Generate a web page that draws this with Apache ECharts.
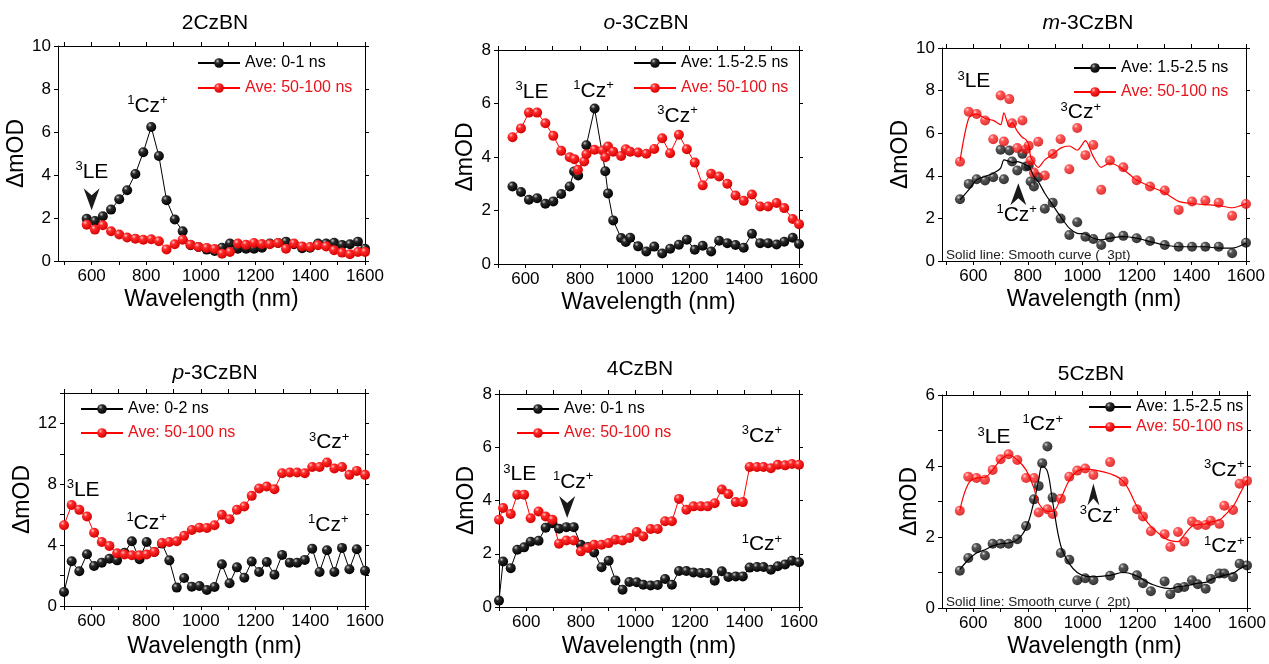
<!DOCTYPE html>
<html>
<head>
<meta charset="utf-8">
<title>Transient absorption spectra</title>
<script src="https://cdn.jsdelivr.net/npm/echarts@6.0.0/dist/echarts.min.js"></script>
<style>
  html, body { margin: 0; padding: 0; background: #fff; }
  #chart { width: 1269px; height: 664px; }
</style>
</head>
<body>
<div id="chart"></div>
<script>
const FONT = '"Liberation Sans", Arial, Helvetica, sans-serif';
const RED = '#ff0000';
const RED_TEXT = '#e8141b';

// 2CzBN
const wl2CzBN = [582, 612, 641, 671, 701, 730, 760, 789, 818, 846, 874, 904, 933, 962, 991, 1021, 1050, 1077, 1106, 1135, 1165, 1194, 1223, 1252, 1282, 1311, 1340, 1370, 1399, 1428, 1458, 1487, 1516, 1545, 1574, 1600];
const fast2CzBN = [1.96, 1.86, 2.08, 2.39, 2.87, 3.29, 4.05, 5.06, 6.23, 4.88, 2.83, 1.93, 1.38, 0.73, 0.65, 0.53, 0.47, 0.62, 0.81, 0.57, 0.57, 0.57, 0.62, 0.81, 0.84, 0.90, 0.78, 0.59, 0.62, 0.81, 0.81, 0.85, 0.75, 0.78, 0.90, 0.57];
const slow2CzBN = [1.69, 1.46, 1.66, 1.38, 1.23, 1.09, 1.04, 0.99, 1.01, 0.92, 0.54, 0.78, 0.99, 0.76, 0.65, 0.61, 0.56, 0.34, 0.42, 0.81, 0.76, 0.84, 0.79, 0.78, 0.84, 0.57, 0.81, 0.68, 0.65, 0.73, 0.68, 0.50, 0.39, 0.31, 0.42, 0.42];

// o-3CzBN
const wlFastO3 = [553, 584, 613, 643, 673, 702, 731, 762, 778, 793, 823, 853, 892, 902, 921, 950, 967, 983, 1012, 1042, 1071, 1100, 1129, 1161, 1190, 1219, 1248, 1279, 1308, 1338, 1368, 1398, 1428, 1458, 1487, 1518, 1546, 1577, 1600];
const fastO3 = [2.90, 2.69, 2.40, 2.46, 2.25, 2.34, 2.62, 2.90, 3.46, 3.31, 4.44, 5.81, 3.47, 2.64, 1.63, 0.97, 0.82, 0.98, 0.66, 0.47, 0.65, 0.39, 0.57, 0.72, 0.91, 0.53, 0.68, 0.47, 0.87, 0.78, 0.71, 0.61, 1.13, 0.78, 0.78, 0.73, 0.83, 0.98, 0.75];
const wlSlowO3 = [553, 584, 613, 643, 673, 702, 731, 762, 779, 792, 815, 823, 853, 882, 892, 902, 921, 950, 967, 983, 1012, 1042, 1071, 1100, 1129, 1161, 1190, 1219, 1248, 1279, 1308, 1338, 1368, 1398, 1428, 1458, 1487, 1518, 1546, 1577, 1600];
const slowO3 = [4.74, 5.07, 5.66, 5.66, 5.26, 4.79, 4.23, 3.99, 3.92, 3.52, 3.83, 4.10, 4.27, 4.24, 3.99, 4.39, 4.20, 4.04, 4.29, 4.20, 4.17, 4.12, 4.30, 4.70, 4.14, 4.83, 4.29, 3.79, 2.94, 3.37, 3.27, 3.00, 2.56, 2.36, 2.60, 2.15, 2.15, 2.28, 2.09, 1.68, 1.49];

// m-3CzBN (dots + smoothed curve)
const wlM3 = [551, 583, 612, 643, 673, 700, 712, 732, 742, 761, 780, 793, 803, 810, 822, 838, 862, 891, 920, 952, 981, 1011, 1040, 1069, 1101, 1150, 1199, 1248, 1302, 1353, 1402, 1451, 1500, 1549, 1600];
const fastM3 = [2.90, 3.62, 3.84, 3.78, 3.93, 5.22, 3.84, 5.19, 4.67, 4.25, 5.03, 4.44, 4.47, 3.73, 3.50, 3.93, 2.45, 2.74, 1.99, 1.22, 1.82, 1.14, 1.03, 0.75, 1.11, 1.18, 1.07, 0.94, 0.75, 0.67, 0.67, 0.67, 0.67, 0.36, 0.86];
const fastM3Smooth = [2.87, 3.34, 3.81, 3.97, 4.12, 4.36, 4.75, 4.67, 4.62, 4.67, 4.59, 4.51, 4.44, 4.31, 3.97, 3.73, 3.18, 2.63, 2.08, 1.54, 1.30, 1.27, 1.07, 0.99, 1.07, 1.14, 1.07, 0.91, 0.75, 0.67, 0.67, 0.67, 0.60, 0.60, 0.83];
const slowM3 = [4.66, 7.01, 6.90, 6.60, 5.72, 7.77, 5.61, 7.60, 6.47, 5.30, 6.60, 5.25, 5.41, 4.72, 4.15, 5.60, 4.01, 5.02, 5.72, 4.31, 6.24, 4.97, 5.45, 3.34, 4.72, 4.40, 3.79, 3.50, 3.31, 2.40, 2.79, 2.84, 2.74, 2.12, 2.68];
const slowM3Smooth = [4.7, 6.7, 6.9, 6.7, 6.6, 6.4, 6.95, 6.3, 6.5, 6.1, 5.8, 5.7, 5.45, 4.9, 4.6, 4.4, 4.75, 5.0, 5.3, 5.4, 5.2, 5.65, 4.9, 4.4, 4.6, 4.3, 3.8, 3.5, 3.2, 2.8, 2.7, 2.65, 2.6, 2.5, 2.7];

// p-3CzBN
const wlP3 = [500, 528, 556, 584, 610, 638, 666, 694, 721, 748, 776, 802, 830, 858, 885, 912, 939, 967, 995, 1022, 1050, 1077, 1105, 1132, 1159, 1186, 1213, 1241, 1269, 1297, 1325, 1352, 1380, 1407, 1434, 1461, 1488, 1516, 1543, 1570, 1600];
const fastP3 = [0.92, 2.94, 2.28, 3.40, 2.63, 2.85, 3.11, 3.00, 3.50, 4.25, 3.07, 4.21, 3.55, 4.10, 3.00, 1.21, 1.84, 1.27, 1.32, 1.05, 1.25, 2.74, 1.49, 2.54, 1.86, 2.92, 2.24, 2.89, 2.06, 3.36, 2.85, 2.85, 3.03, 3.77, 2.24, 3.66, 2.24, 3.82, 2.41, 3.73, 2.32];
const slowP3 = [5.31, 6.64, 6.32, 5.88, 4.82, 4.21, 3.95, 3.46, 3.38, 3.33, 3.33, 3.38, 3.55, 4.14, 4.21, 4.25, 4.61, 5.00, 5.15, 5.13, 5.31, 5.99, 5.70, 6.32, 6.54, 7.24, 7.72, 7.85, 7.68, 8.73, 8.77, 8.77, 8.73, 9.14, 9.14, 9.43, 9.04, 9.14, 8.62, 8.88, 8.62];

// 4CzBN
const wl4CzBN = [500, 515, 543, 567, 592, 616, 645, 671, 696, 720, 747, 774, 800, 826, 849, 876, 902, 927, 953, 978, 1005, 1029, 1056, 1082, 1109, 1134, 1160, 1187, 1213, 1240, 1265, 1291, 1317, 1341, 1368, 1394, 1419, 1446, 1470, 1497, 1522, 1549, 1574, 1600];
const fast4CzBN = [0.24, 1.71, 1.46, 2.15, 2.24, 2.45, 2.49, 2.98, 3.15, 2.94, 3.00, 3.00, 2.34, 2.25, 2.05, 1.49, 1.74, 1.00, 0.65, 0.94, 0.93, 0.84, 0.81, 0.83, 1.05, 0.84, 1.35, 1.35, 1.30, 1.28, 1.28, 0.99, 1.34, 1.13, 1.15, 1.15, 1.48, 1.50, 1.50, 1.40, 1.53, 1.60, 1.74, 1.68];
const slow4CzBN = [3.28, 3.72, 3.49, 4.22, 4.22, 3.33, 3.59, 3.40, 3.28, 2.38, 2.50, 2.50, 2.09, 2.22, 2.34, 2.34, 2.40, 2.53, 2.50, 2.59, 2.82, 2.65, 2.93, 2.93, 3.22, 3.22, 4.06, 3.65, 3.78, 3.78, 3.78, 3.90, 4.41, 4.24, 3.94, 3.94, 5.26, 5.26, 5.26, 5.21, 5.34, 5.32, 5.37, 5.34];

// 5CzBN (dots + smoothed curve)
const wlFast5 = [551, 582, 612, 643, 671, 700, 729, 761, 793, 822, 839, 852, 871, 890, 920, 951, 980, 1009, 1039, 1100, 1149, 1198, 1220, 1249, 1299, 1320, 1348, 1371, 1399, 1420, 1449, 1468, 1499, 1517, 1549, 1573, 1600];
const fast5 = [1.05, 1.41, 1.69, 1.48, 1.81, 1.81, 1.81, 1.94, 2.31, 3.06, 3.44, 4.08, 4.55, 3.11, 1.55, 1.36, 0.78, 0.84, 0.78, 0.91, 1.12, 0.92, 0.70, 0.47, 0.75, 0.39, 0.56, 0.59, 0.78, 0.67, 0.54, 0.82, 0.97, 0.97, 0.87, 1.25, 1.20];
const fast5Smooth = [1.08, 1.36, 1.55, 1.64, 1.75, 1.81, 1.83, 1.92, 2.25, 3.00, 3.60, 4.00, 3.85, 3.00, 1.75, 1.25, 1.00, 0.90, 0.88, 0.92, 1.00, 0.90, 0.80, 0.68, 0.56, 0.55, 0.60, 0.62, 0.66, 0.70, 0.72, 0.80, 0.88, 0.92, 0.98, 1.10, 1.20];
const wlSlow5 = [551, 582, 612, 643, 671, 700, 729, 761, 793, 822, 839, 871, 890, 920, 951, 980, 1009, 1039, 1100, 1149, 1198, 1220, 1249, 1299, 1320, 1348, 1371, 1399, 1420, 1449, 1468, 1499, 1517, 1549, 1573, 1600];
const slow5 = [2.74, 3.70, 3.66, 3.61, 3.89, 4.19, 4.33, 4.17, 3.66, 3.66, 2.69, 2.78, 2.65, 3.08, 3.70, 3.87, 3.93, 3.75, 4.11, 3.56, 2.78, 2.58, 2.16, 2.08, 1.72, 2.14, 1.87, 2.44, 2.34, 2.34, 2.46, 2.37, 2.88, 2.76, 3.50, 3.58];
const slow5Smooth = [2.74, 3.50, 3.66, 3.68, 3.89, 4.17, 4.31, 4.17, 3.89, 3.37, 2.95, 2.72, 2.72, 3.09, 3.60, 3.85, 3.91, 3.89, 3.78, 3.56, 2.86, 2.58, 2.30, 1.97, 1.90, 1.87, 2.06, 2.30, 2.35, 2.37, 2.42, 2.48, 2.60, 2.86, 3.20, 3.60];

// axis ticks and labels
const xLabels = [600, 800, 1000, 1200, 1400, 1600];
const xTicks = [500, 600, 700, 800, 900, 1000, 1100, 1200, 1300, 1400, 1500, 1600];
const yLabels10 = [0, 2, 4, 6, 8, 10];
const yLabels8 = [0, 2, 4, 6, 8];
const yLabels14 = [0, 4, 8, 12];
const yTicks14 = [0, 2, 4, 6, 8, 10, 12, 14];
const yLabels6 = [0, 2, 4, 6];
const yTicks6 = [0, 1, 2, 3, 4, 5, 6];

const panels = [
  { title: '2CzBN', tx: 215, ty: 23, grid: { left: 58, top: 46, width: 307, height: 215 },
    xMin: 477, yMax: 10, yLab: yLabels10, yTick: yLabels10, yGap: 16, xGap: 27,
    legend: { left: 197, top: 55, gap: 9, names: ['Ave: 0-1 ns', 'Ave: 50-100 ns'] } },
  { title: '{i|o}-3CzBN', tx: 646, ty: 23, grid: { left: 498, top: 50, width: 301, height: 214 },
    xMin: 500, yMax: 8, yLab: yLabels8, yTick: yLabels8, yGap: 20, xGap: 27,
    legend: { left: 633, top: 55, gap: 9, names: ['Ave: 1.5-2.5 ns', 'Ave: 50-100 ns'] } },
  { title: '{i|m}-3CzBN', tx: 1088, ty: 23, grid: { left: 942, top: 48, width: 304, height: 213 },
    xMin: 485, yMax: 10, yLab: yLabels10, yTick: yLabels10, yGap: 20, xGap: 27,
    legend: { left: 1073, top: 60, gap: 8, names: ['Ave: 1.5-2.5 ns', 'Ave: 50-100 ns'] } },
  { title: '{i|p}-3CzBN', tx: 215, ty: 373, grid: { left: 64, top: 393, width: 301, height: 213 },
    xMin: 500, yMax: 14, yLab: yLabels14, yTick: yTicks14, yGap: 21, xGap: 29,
    legend: { left: 80, top: 401, gap: 8, names: ['Ave: 0-2 ns', 'Ave: 50-100 ns'] } },
  { title: '4CzBN', tx: 640, ty: 369, grid: { left: 499, top: 394, width: 300, height: 213 },
    xMin: 500, yMax: 8, yLab: yLabels8, yTick: yLabels8, yGap: 20, xGap: 28,
    legend: { left: 516, top: 401, gap: 8, names: ['Ave: 0-1 ns', 'Ave: 50-100 ns'] } },
  { title: '5CzBN', tx: 1091, ty: 374, grid: { left: 942, top: 395, width: 305, height: 213 },
    xMin: 486, yMax: 6, yLab: yLabels6, yTick: yTicks6, yGap: 20, xGap: 27,
    legend: { left: 1088, top: 399, gap: 4, names: ['Ave: 1.5-2.5 ns', 'Ave: 50-100 ns'] } }
];

// state labels, placed in data coordinates of each panel
const notes = [
  { p: 0, t: '{s|3}LE', x: 601, y: 4.15 },
  { p: 0, t: '{s|1}Cz{s|+}', x: 804, y: 7.2 },
  { p: 1, t: '{s|3}LE', x: 624, y: 6.44 },
  { p: 1, t: '{s|1}Cz{s|+}', x: 849, y: 6.47 },
  { p: 1, t: '{s|3}Cz{s|+}', x: 1156, y: 5.53 },
  { p: 2, t: '{s|3}LE', x: 602, y: 8.43 },
  { p: 2, t: '{s|3}Cz{s|+}', x: 994, y: 6.97 },
  { p: 2, t: '{s|1}Cz{s|+}', x: 759, y: 2.16 },
  { p: 3, t: '{s|3}LE', x: 570, y: 7.63 },
  { p: 3, t: '{s|1}Cz{s|+}', x: 802, y: 5.44 },
  { p: 3, t: '{s|3}Cz{s|+}', x: 1469, y: 10.75 },
  { p: 3, t: '{s|1}Cz{s|+}', x: 1466, y: 5.33 },
  { p: 4, t: '{s|3}LE', x: 576, y: 4.97 },
  { p: 4, t: '{s|1}Cz{s|+}', x: 772, y: 4.68 },
  { p: 4, t: '{s|3}Cz{s|+}', x: 1464, y: 6.43 },
  { p: 4, t: '{s|1}Cz{s|+}', x: 1464, y: 2.34 },
  { p: 5, t: '{s|3}LE', x: 676, y: 4.8 },
  { p: 5, t: '{s|1}Cz{s|+}', x: 854, y: 5.17 },
  { p: 5, t: '{s|3}Cz{s|+}', x: 1063, y: 2.58 },
  { p: 5, t: '{s|3}Cz{s|+}', x: 1517, y: 3.89 },
  { p: 5, t: '{s|1}Cz{s|+}', x: 1517, y: 1.73 }
];
const arrows = [
  { p: 0, x: 600, y: 2.36, dir: 1, w: 8 },
  { p: 2, x: 765, y: 3.65, dir: -1, w: 8 },
  { p: 4, x: 750, y: 3.34, dir: 1, w: 8 },
  { p: 5, x: 1039, y: 3.51, dir: -1, w: 6 }
];
const smoothNotes = [
  { p: 2, t: 'Solid line: Smooth curve (  3pt)' },
  { p: 5, t: 'Solid line: Smooth curve (  2pt)' }
];

const ball = (c0, c1, c2) => ({
  type: 'radial', x: 0.35, y: 0.3, r: 0.72,
  colorStops: [{ offset: 0, color: c0 }, { offset: 0.3, color: c1 }, { offset: 1, color: c2 }]
});
const BLACK_BALL = ball('#c8c8c8', '#2a2a2a', '#000');
const RED_BALL = ball('#ffc8c8', '#ff2a2a', '#d40000');

const pairs = (xs, ys) => xs.map((x, i) => [x, ys[i]]);

function dotLine(p, name, xs, ys, fill, color) {
  return {
    type: 'line', name, xAxisIndex: 2 * p, yAxisIndex: 2 * p, data: pairs(xs, ys),
    symbol: 'circle', symbolSize: 10, showAllSymbol: true,
    itemStyle: { color: fill }, lineStyle: { color, width: 1 }
  };
}
function dots(p, name, xs, ys, fill) {
  return {
    type: 'scatter', name, xAxisIndex: 2 * p, yAxisIndex: 2 * p, data: pairs(xs, ys),
    symbol: 'circle', symbolSize: 10, itemStyle: { color: fill }
  };
}
function curve(p, name, xs, ys, color, smooth) {
  return {
    type: 'line', name, xAxisIndex: 2 * p, yAxisIndex: 2 * p, data: pairs(xs, ys),
    symbol: 'none', smooth, lineStyle: { color, width: 1.2 }
  };
}

const series = [
  dotLine(0, 'Ave: 0-1 ns', wl2CzBN, fast2CzBN, BLACK_BALL, '#000'),
  dotLine(0, 'Ave: 50-100 ns', wl2CzBN, slow2CzBN, RED_BALL, RED),
  dotLine(1, 'Ave: 1.5-2.5 ns', wlFastO3, fastO3, BLACK_BALL, '#000'),
  dotLine(1, 'Ave: 50-100 ns', wlSlowO3, slowO3, RED_BALL, RED),
  curve(2, 'Ave: 1.5-2.5 ns', wlM3, fastM3Smooth, '#000', 0.25),
  curve(2, 'Ave: 50-100 ns', wlM3, slowM3Smooth, RED, 0.25),
  dots(2, 'Ave: 1.5-2.5 ns', wlM3, fastM3, BLACK_BALL),
  dots(2, 'Ave: 50-100 ns', wlM3, slowM3, RED_BALL),
  dotLine(3, 'Ave: 0-2 ns', wlP3, fastP3, BLACK_BALL, '#000'),
  dotLine(3, 'Ave: 50-100 ns', wlP3, slowP3, RED_BALL, RED),
  dotLine(4, 'Ave: 0-1 ns', wl4CzBN, fast4CzBN, BLACK_BALL, '#000'),
  dotLine(4, 'Ave: 50-100 ns', wl4CzBN, slow4CzBN, RED_BALL, RED),
  curve(5, 'Ave: 1.5-2.5 ns', wlFast5, fast5Smooth, '#000', 0.4),
  curve(5, 'Ave: 50-100 ns', wlSlow5, slow5Smooth, RED, 0.4),
  dots(5, 'Ave: 1.5-2.5 ns', wlFast5, fast5, BLACK_BALL),
  dots(5, 'Ave: 50-100 ns', wlSlow5, slow5, RED_BALL)
];

const axisLine = { show: true, onZero: false, lineStyle: { color: '#000', width: 1 } };
const plain = v => String(v);
const grids = [], xAxes = [], yAxes = [], legends = [];

panels.forEach((pn, i) => {
  grids.push(Object.assign({ show: false, containLabel: false, outerBoundsMode: 'none' }, pn.grid));
  const xBase = {
    gridIndex: i, type: 'value', min: pn.xMin, max: 1600, axisLine,
    axisTick: { show: true, inside: false, length: 4, customValues: xTicks.filter(v => v >= pn.xMin), lineStyle: { color: '#000' } },
    splitLine: { show: false }
  };
  xAxes.push(Object.assign({}, xBase, {
    position: 'bottom',
    axisLabel: { customValues: xLabels, formatter: plain, color: '#000', fontSize: 17, fontFamily: FONT, margin: 7 },
    name: 'Wavelength (nm)', nameLocation: 'middle', nameGap: pn.xGap,
    nameTextStyle: { color: '#000', fontSize: 23, fontFamily: FONT }
  }));
  xAxes.push(Object.assign({}, xBase, { position: 'top', axisLabel: { show: false } }));
  const yBase = {
    gridIndex: i, type: 'value', min: 0, max: pn.yMax, axisLine,
    axisTick: { show: true, inside: false, length: 4, customValues: pn.yTick, lineStyle: { color: '#000' } },
    splitLine: { show: false }
  };
  yAxes.push(Object.assign({}, yBase, {
    position: 'left',
    axisLabel: { customValues: pn.yLab, formatter: plain, color: '#000', fontSize: 17, fontFamily: FONT, margin: 7 },
    name: 'ΔmOD', nameLocation: 'middle', nameGap: pn.yGap,
    nameTextStyle: { color: '#000', fontSize: 23, fontFamily: FONT }
  }));
  yAxes.push(Object.assign({}, yBase, { position: 'right', axisLabel: { show: false } }));
  legends.push({
    left: pn.legend.left, top: pn.legend.top, orient: 'vertical', padding: 0,
    itemWidth: 42, itemHeight: 12, itemGap: pn.legend.gap, selectedMode: false,
    textStyle: { fontSize: 16, fontFamily: FONT },
    data: [
      { name: pn.legend.names[0], textStyle: { color: '#000' } },
      { name: pn.legend.names[1], textStyle: { color: RED_TEXT } }
    ]
  });
});

const chart = echarts.init(document.getElementById('chart'), null, { renderer: 'canvas' });
chart.setOption({
  animation: false,
  backgroundColor: '#fff',
  grid: grids,
  xAxis: xAxes,
  yAxis: yAxes,
  legend: legends,
  series
});

// texts and arrows need pixel positions from the axes
const toPx = (p, x, y) => chart.convertToPixel({ xAxisIndex: 2 * p, yAxisIndex: 2 * p }, [x, y]);
const noteRich = {
  s: { fontSize: 13, fontFamily: FONT, fill: '#000', verticalAlign: 'top', lineHeight: 14 },
};
const graphics = [];

panels.forEach(pn => {
  graphics.push({
    type: 'text', x: pn.tx, y: pn.ty, z: 50,
    style: {
      legacy: false, text: pn.title, fill: '#000', fontSize: 21, fontFamily: FONT,
      align: 'center', verticalAlign: 'middle',
      rich: { i: { fontSize: 21, fontFamily: FONT, fontStyle: 'italic', fill: '#000' } }
    }
  });
});

notes.forEach(n => {
  const pt = toPx(n.p, n.x, n.y);
  graphics.push({
    type: 'text', x: pt[0], y: pt[1], z: 50,
    style: {
      legacy: false, text: n.t, fill: '#000', fontSize: 21, fontFamily: FONT, lineHeight: 24,
      align: 'center', verticalAlign: 'middle', rich: noteRich
    }
  });
});

arrows.forEach(a => {
  const [tx, ty] = toPx(a.p, a.x, a.y);
  const d = a.dir;
  graphics.push({
    type: 'polygon', z: 50,
    shape: { points: [[tx, ty], [tx - a.w, ty - d * 22], [tx, ty - d * 15], [tx + a.w, ty - d * 22]] },
    style: { fill: '#1a1a1a' }
  });
});

smoothNotes.forEach(s => {
  const g = panels[s.p].grid;
  graphics.push({
    type: 'text', x: g.left + 4, y: g.top + g.height - 6, z: 50,
    style: {
      legacy: false, text: s.t, fill: '#222', fontSize: 13.5, fontFamily: FONT,
      align: 'left', verticalAlign: 'middle'
    }
  });
});

chart.setOption({ graphic: graphics });
</script>
</body>
</html>
